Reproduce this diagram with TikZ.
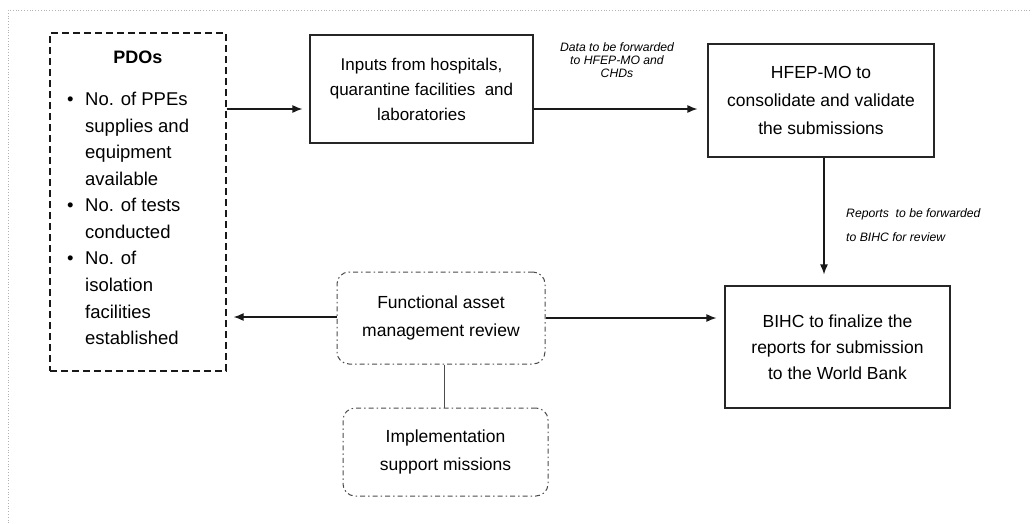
\documentclass[tikz,border=0pt]{standalone}
\usepackage{fontspec}
\setmainfont{Liberation Sans}
\usetikzlibrary{arrows.meta}
\newcommand{\pdobul}{\makebox[21pt][l]{\hspace*{3pt}\textbullet}}
\begin{document}
\begin{tikzpicture}[x=1pt,y=-1pt,
  solidbox/.style={draw=black!85,line width=1.2pt,inner sep=0pt,align=center,
    font=\fontsize{17}{26.5}\selectfont},
  dashbox/.style={draw=black!90,line width=1.3pt,dash pattern=on 7pt off 4pt,inner sep=0pt},
  dotbox/.style={draw=black!70,line width=1pt,dash pattern=on 5pt off 3pt on 1.5pt off 3pt,
    rounded corners=12pt,inner sep=0pt,align=center,font=\fontsize{17.5}{28}\selectfont},
  conn/.style={draw=black!90,line width=1.2pt},
  arr/.style={conn,-{Latex[length=10pt,width=8pt]}},
  lbl/.style={font=\fontsize{12.2}{13.3}\selectfont\itshape,align=center,inner sep=0pt}
]
\useasboundingbox (0,0) rectangle (1034,523);
\draw[gray!60,line width=0.8pt,dotted] (1030,10) -- (8,10) -- (8,523);

% PDO box
\node[dashbox,minimum width=176pt,minimum height=338pt] (pdo) at (138,202) {};
\node[font=\fontsize{18}{22}\selectfont\bfseries,inner sep=0pt] (pdotitle) at (138,57) {PDOs};
\node[font=\fontsize{18.5}{26.56}\selectfont,align=left,inner sep=0pt,anchor=west] (pdoitems) at (64,218.5)
{\pdobul No. of PPEs\\
 \hspace*{21pt}supplies and\\
 \hspace*{21pt}equipment\\
 \hspace*{21pt}available\\
 \pdobul No. of tests\\
 \hspace*{21pt}conducted\\
 \pdobul No. of\\
 \hspace*{21pt}isolation\\
 \hspace*{21pt}facilities\\
 \hspace*{21pt}established};

% Boxes
\node[solidbox,minimum width=223pt,minimum height=108pt,font=\fontsize{17}{25}\selectfont] (inputs) at (421.5,89)
 {Inputs from hospitals,\\quarantine facilities\ \ and\\laboratories};
\node[solidbox,minimum width=226pt,minimum height=113pt,font=\fontsize{17.5}{28}\selectfont] (hfep) at (821,100.5)
 {HFEP-MO to\\consolidate and validate\\the submissions};
\node[solidbox,minimum width=225pt,minimum height=122pt,font=\fontsize{17.5}{26}\selectfont] (bihc) at (837.5,347)
 {BIHC to finalize\ the\\reports for submission\\to the World Bank};
\node[dotbox,minimum width=208pt,minimum height=92pt] (func) at (441,318)
 {Functional asset\\management review};
\node[dotbox,minimum width=205pt,minimum height=88pt] (impl) at (445.5,452)
 {Implementation\\support missions};

% Labels
\node[lbl] (lbldata) at (617,60) {Data to be forwarded\\to HFEP-MO and\\CHDs};
\node[lbl,align=left,anchor=west,font=\fontsize{12.2}{24}\selectfont\itshape] (lblrep) at (846,225)
 {Reports\ \ to be forwarded\\to BIHC for review};

% Connectors
\draw[arr,shorten >=7pt] (pdo.east |- 0,109) -- (inputs.west |- 0,109);
\draw[arr,shorten >=10pt] (inputs.east |- 0,109) -- (hfep.west |- 0,109);
\draw[arr,shorten >=11pt] (hfep.south -| 824,0) -- (bihc.north -| 824,0);
\draw[arr,shorten >=8pt] (func.east |- 0,318) -- (bihc.west |- 0,318);
\draw[arr,shorten >=7pt] (func.west |- 0,317) -- (pdo.east |- 0,317);
\draw[conn,line width=1pt,draw=black!70] (func.south -| 444,0) -- (impl.north -| 444,0);
\end{tikzpicture}
\end{document}
